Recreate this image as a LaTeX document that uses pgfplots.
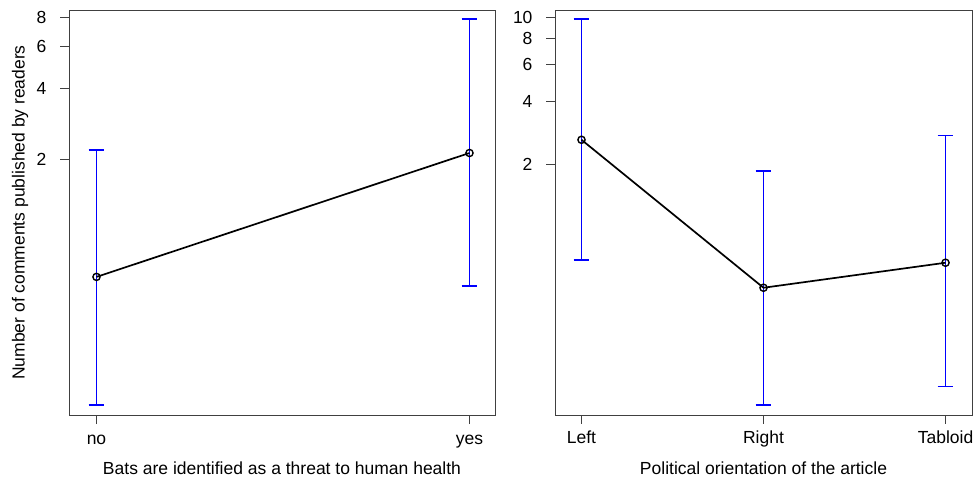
\documentclass[border=0pt]{standalone}
\usepackage{fontspec}
\setmainfont{Liberation Sans}
\usepackage{pgfplots}
\pgfplotsset{compat=1.18}
\definecolor{eb}{RGB}{0,0,255}
\begin{document}
\begin{tikzpicture}[x=1pt,y=1pt]
\path[use as bounding box] (0,0) rectangle (974,480);
\begin{axis}[
  scale only axis,
  ymode=log,
  height=405pt,
  axis line style={black!75, line width=0.8pt},
  tick style={black!75, line width=0.8pt},
  tick align=outside,
  major tick length=9pt,
  tick pos=left,
  yminorticks=false,
  unbounded coords=jump,
  /pgf/number format/assume math mode=true,
  tick label style={font=\fontsize{17.5}{20}\selectfont},
  every axis x label/.style={at={(axis description cs:0.5,-0.131)}, anchor=center, font=\fontsize{17.5}{20}\selectfont},
  every axis y label/.style={at={(axis description cs:-0.115,0.5)}, rotate=90, anchor=center, font=\fontsize{17.5}{20}\selectfont},
  xticklabel style={anchor=base, yshift=-20pt},
  yticklabel style={anchor=east, xshift=-10pt},
  clip=false,
  at={(69pt,65pt)}, anchor=south west,
  width=426pt,
  xmin=-0.0737, xmax=1.0684,
  ymin=0.164, ymax=8.57,
  xtick={0,1}, xticklabels={no,yes},
  ytick={2,4,6,8}, yticklabels={2,4,6,8},
  xlabel={Bats are identified as a threat to human health},
  ylabel={Number of comments published by readers},
]
\addplot[draw=eb, line width=1.5pt, mark=none] coordinates {
  (0,0.181) (0,2.18) (nan,nan)
  (-0.0214,0.181) (0.0214,0.181) (nan,nan)
  (-0.0214,2.18) (0.0214,2.18) (nan,nan)
  (1,0.579) (1,7.85) (nan,nan)
  (0.9786,0.579) (1.0214,0.579) (nan,nan)
  (0.9786,7.85) (1.0214,7.85)
};
\addplot[draw=black, line width=1.7pt, mark=o, mark size=3.6pt, mark options={draw=black, fill=none, line width=1.4pt}] coordinates {(0,0.632) (1,2.12)};
\end{axis}
\begin{axis}[
  scale only axis,
  ymode=log,
  height=405pt,
  axis line style={black!75, line width=0.8pt},
  tick style={black!75, line width=0.8pt},
  tick align=outside,
  major tick length=9pt,
  tick pos=left,
  yminorticks=false,
  unbounded coords=jump,
  /pgf/number format/assume math mode=true,
  tick label style={font=\fontsize{17.5}{20}\selectfont},
  every axis x label/.style={at={(axis description cs:0.5,-0.131)}, anchor=center, font=\fontsize{17.5}{20}\selectfont},
  xticklabel style={anchor=base, yshift=-20pt},
  yticklabel style={anchor=east, xshift=-10pt},
  clip=false,
  at={(555pt,65pt)}, anchor=south west,
  width=417pt,
  xmin=-0.1456, xmax=2.1456,
  ymin=0.129, ymax=10.9,
  xtick={0,1,2}, xticklabels={Left,Right,Tabloid},
  ytick={2,4,6,8,10}, yticklabels={2,4,6,8,10},
  xlabel={Political orientation of the article},
]
\addplot[draw=eb, line width=1.5pt, mark=none] coordinates {
  (0,0.706) (0,9.9) (nan,nan)
  (-0.0438,0.706) (0.0438,0.706) (nan,nan)
  (-0.0438,9.9) (0.0438,9.9) (nan,nan)
  (1,0.144) (1,1.87) (nan,nan)
  (0.9562,0.144) (1.0438,0.144) (nan,nan)
  (0.9562,1.87) (1.0438,1.87) (nan,nan)
  (2,0.176) (2,2.75) (nan,nan)
  (1.9562,0.176) (2.0438,0.176) (nan,nan)
  (1.9562,2.75) (2.0438,2.75)
};
\addplot[draw=black, line width=1.7pt, mark=o, mark size=3.6pt, mark options={draw=black, fill=none, line width=1.4pt}] coordinates {(0,2.63) (1,0.52) (2,0.684)};
\end{axis}
\end{tikzpicture}
\end{document}
